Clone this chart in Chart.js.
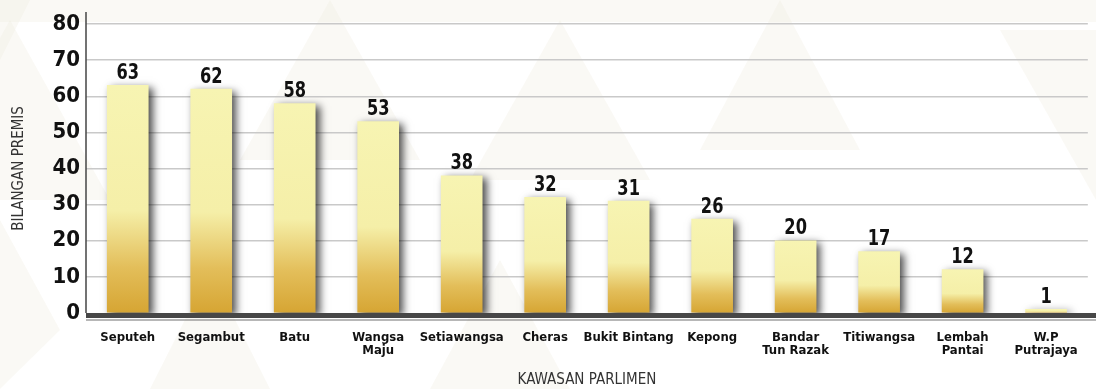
<!DOCTYPE html>
<html>
<head>
<meta charset="utf-8">
<script src="https://cdn.jsdelivr.net/npm/chart.js@4/dist/chart.umd.min.js"></script>
<style>
  html, body { margin: 0; padding: 0; background: #ffffff; }
  #wrap { width: 1096px; height: 389px; position: relative; }
</style>
</head>
<body>
<div id="wrap"><canvas id="c" width="1096" height="389"></canvas></div>
<script>
// Bilangan premis mengikut kawasan parlimen
const categories = [
  'Seputeh', 'Segambut', 'Batu', ['Wangsa', 'Maju'], 'Setiawangsa', 'Cheras',
  'Bukit Bintang', 'Kepong', ['Bandar', 'Tun Razak'], 'Titiwangsa',
  ['Lembah', 'Pantai'], ['W.P', 'Putrajaya']
];
const premisCounts = [63, 62, 58, 53, 38, 32, 31, 26, 20, 17, 12, 1];
const yTicks = [0, 10, 20, 30, 40, 50, 60, 70, 80];

const FONT = "'DejaVu Sans Condensed', 'Liberation Sans Narrow', sans-serif";

// Faint geometric backdrop
const backdrop = {
  id: 'backdrop',
  beforeDraw(chart) {
    const ctx = chart.ctx;
    ctx.save();
    ctx.fillStyle = '#ffffff';
    ctx.fillRect(0, 0, chart.width, chart.height);
    ctx.fillStyle = 'rgba(240, 236, 222, 0.3)';
    const tris = [
      [[0, 0], [1096, 0], [1096, 22], [0, 22]],
      [[0, 0], [30, 0], [0, 60]],
      [[10, 20], [110, 200], [-90, 200]],
      [[0, 220], [60, 330], [0, 389]],
      [[150, 389], [210, 270], [270, 389]],
      [[330, 0], [420, 160], [240, 160]],
      [[560, 20], [650, 180], [470, 180]],
      [[780, 0], [860, 150], [700, 150]],
      [[1000, 30], [1096, 200], [1096, 30]],
      [[430, 389], [500, 260], [570, 389]]
    ];
    tris.forEach(t => {
      ctx.beginPath();
      ctx.moveTo(t[0][0], t[0][1]);
      for (let i = 1; i < t.length; i++) ctx.lineTo(t[i][0], t[i][1]);
      ctx.closePath();
      ctx.fill();
    });
    ctx.restore();
  }
};

// Drop shadow behind the bars
const barShadow = {
  id: 'barShadow',
  beforeDatasetsDraw(chart) {
    const ctx = chart.ctx;
    ctx.save();
    ctx.shadowColor = 'rgba(0, 0, 0, 0.7)';
    ctx.shadowBlur = 8;
    ctx.shadowOffsetX = 4;
    ctx.shadowOffsetY = 3;
  },
  afterDatasetsDraw(chart) {
    chart.ctx.restore();
  }
};

// Axis frame: left rule and the heavy baseline
const axisFrame = {
  id: 'axisFrame',
  afterDatasetsDraw(chart) {
    const ctx = chart.ctx;
    const area = chart.chartArea;
    const y0 = chart.scales.y.getPixelForValue(0);
    ctx.save();
    ctx.strokeStyle = '#444444';
    ctx.lineWidth = 1.5;
    ctx.beginPath();
    ctx.moveTo(area.left, 12);
    ctx.lineTo(area.left, y0);
    ctx.stroke();
    ctx.fillStyle = '#474747';
    ctx.fillRect(area.left, y0, chart.width - area.left, 5);
    ctx.strokeStyle = '#707070';
    ctx.lineWidth = 1.2;
    ctx.beginPath();
    ctx.moveTo(area.left, y0 + 7);
    ctx.lineTo(chart.width, y0 + 7);
    ctx.stroke();
    ctx.restore();
  }
};

// Value labels above the bars, set in a condensed heavy face
const valueLabels = {
  id: 'valueLabels',
  afterDraw(chart) {
    const ctx = chart.ctx;
    const meta = chart.getDatasetMeta(0);
    ctx.save();
    ctx.font = 'bold 22px ' + FONT;
    ctx.fillStyle = '#111111';
    ctx.textAlign = 'center';
    ctx.textBaseline = 'bottom';
    meta.data.forEach((bar, i) => {
      ctx.save();
      ctx.translate(bar.x, bar.y - 1);
      ctx.scale(0.82, 1);
      ctx.fillText(String(premisCounts[i]), 0, 0);
      ctx.restore();
    });
    ctx.restore();
  }
};

function barGradient(context) {
  const chart = context.chart;
  const area = chart.chartArea;
  if (!area) return '#f6f2b0';
  const yScale = chart.scales.y;
  const v = context.parsed ? context.parsed.y : premisCounts[context.dataIndex];
  const yBottom = yScale.getPixelForValue(0);
  const yTop = yScale.getPixelForValue(v);
  if (!isFinite(yTop) || yBottom - yTop < 1) return '#f6f2b0';
  const g = chart.ctx.createLinearGradient(0, yBottom, 0, yTop);
  g.addColorStop(0, '#d6a533');
  g.addColorStop(0.2, '#e3be5a');
  g.addColorStop(0.45, '#f5efa8');
  g.addColorStop(1, '#f7f4b2');
  return g;
}

new Chart(document.getElementById('c'), {
  type: 'bar',
  data: {
    labels: categories,
    datasets: [{
      data: premisCounts,
      backgroundColor: barGradient,
      borderWidth: 0,
      barThickness: 41
    }]
  },
  options: {
    responsive: false,
    animation: false,
    devicePixelRatio: 1,
    layout: { padding: { top: 24, right: 8, left: 0, bottom: 0 } },
    plugins: {
      legend: { display: false },
      tooltip: { enabled: false }
    },
    scales: {
      x: {
        grid: { display: false, drawTicks: false },
        border: { display: false },
        ticks: {
          color: '#111111',
          padding: 18,
          maxRotation: 0,
          autoSkip: false,
          font: { family: FONT, weight: 'bold', size: 13, lineHeight: 1.0 }
        },
        title: {
          display: true,
          text: 'KAWASAN PARLIMEN',
          color: '#333333',
          padding: { top: 10, bottom: 0 },
          font: { family: FONT, size: 15, weight: 'normal' }
        },
        afterFit(scale) { scale.height = 76; }
      },
      y: {
        min: 0,
        max: 80,
        afterBuildTicks(scale) { scale.ticks = yTicks.map(v => ({ value: v })); },
        grid: {
          color: (c) => c.tick && c.tick.value === 0 ? 'rgba(0,0,0,0)' : '#c9c9c9',
          lineWidth: 1.5,
          drawTicks: false
        },
        border: { display: false },
        ticks: {
          color: '#111111',
          padding: 6,
          font: { family: FONT, weight: 'bold', size: 22 }
        },
        title: {
          display: true,
          text: 'BILANGAN PREMIS',
          color: '#333333',
          padding: { top: 10, bottom: 0 },
          font: { family: FONT, size: 15, weight: 'normal' }
        },
        afterFit(scale) { scale.width = 86; }
      }
    }
  },
  plugins: [backdrop, barShadow, axisFrame, valueLabels]
});
</script>
</body>
</html>
